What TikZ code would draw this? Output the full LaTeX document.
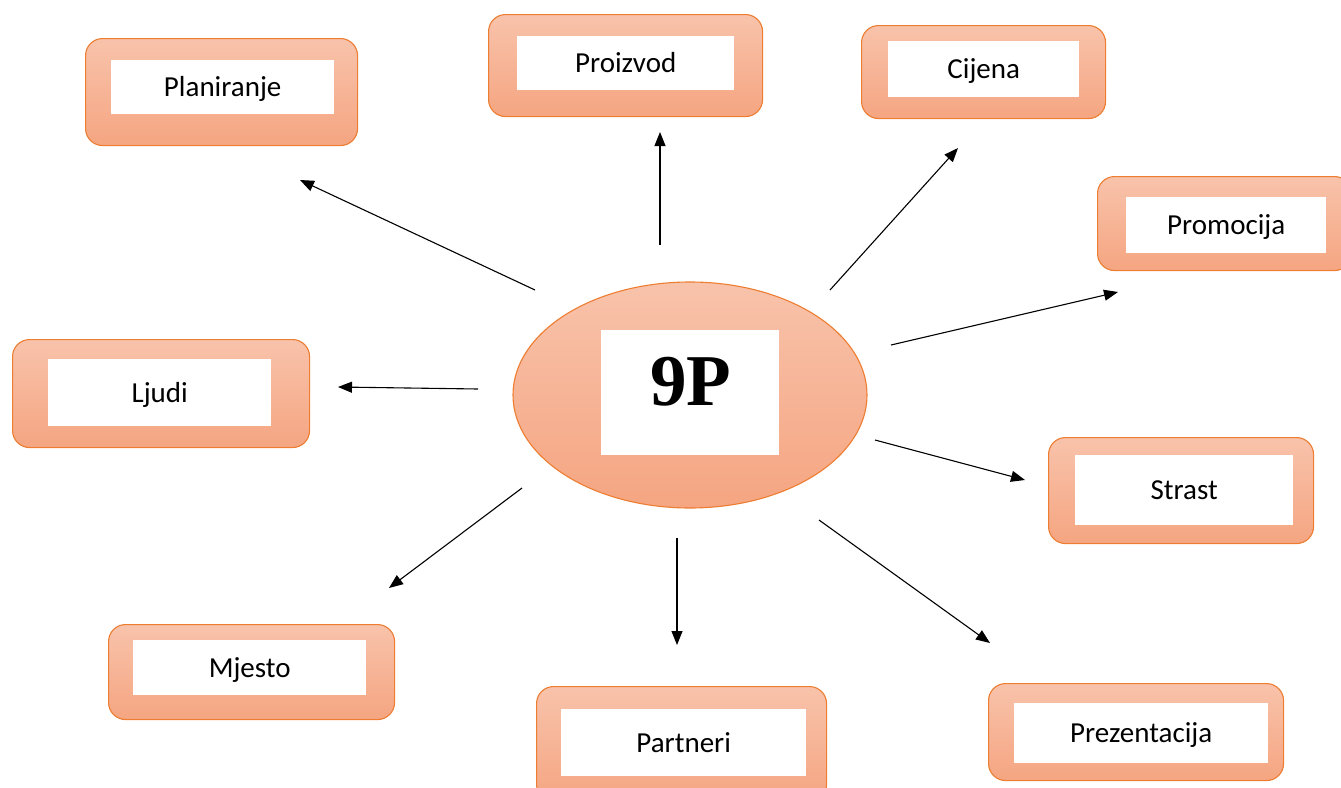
\documentclass[tikz,border=0pt]{standalone}
\usepackage{fontspec}
\setmainfont{Carlito}
\newfontfamily\timesbf{Liberation Serif}
\usetikzlibrary{arrows.meta,shapes.geometric}
\definecolor{boxedge}{HTML}{ED7D31}
\definecolor{boxtop}{HTML}{F8C3AB}
\definecolor{boxbot}{HTML}{F5A581}
\begin{document}
\begin{tikzpicture}[x=1pt,y=-1pt,
  outerbox/.style={draw=boxedge, line width=1.1pt, rounded corners=17pt,
    top color=boxtop, bottom color=boxbot, anchor=north west, inner sep=0pt},
  innerbox/.style={fill=white, anchor=north west, inner sep=0pt,
    font=\fontsize{29}{34}\selectfont, text height=19pt, text depth=0pt},
  arr/.style={-{Triangle[length=14pt,width=11pt]}, line width=1.1pt}]
\useasboundingbox (0,0) rectangle (1341,787);

% outer boxes
\node[outerbox, minimum width=272, minimum height=107] (planO) at (85,38) {};
\node[outerbox, minimum width=274, minimum height=102] (proO) at (488,14) {};
\node[outerbox, minimum width=244, minimum height=93] (cijO) at (861,25) {};
\node[outerbox, minimum width=254, minimum height=94] (promO) at (1097,176) {};
\node[outerbox, minimum width=297, minimum height=108] (ljuO) at (12,339) {};
\node[outerbox, minimum width=265, minimum height=106] (strO) at (1048,437) {};
\node[outerbox, minimum width=286, minimum height=95] (mjeO) at (108,624) {};
\node[outerbox, minimum width=290, minimum height=115] (parO) at (536,686) {};
\node[outerbox, minimum width=295, minimum height=97] (preO) at (988,683) {};

% inner boxes with text
\node[innerbox, minimum width=223, minimum height=54] (plan) at (111,60) {Planiranje};
\node[innerbox, minimum width=217, minimum height=54] (pro) at (517,36) {Proizvod};
\node[innerbox, minimum width=191, minimum height=56] (cij) at (888,41) {Cijena};
\node[innerbox, minimum width=200, minimum height=56] (prom) at (1126,197) {Promocija};
\node[innerbox, minimum width=223, minimum height=67] (lju) at (48,359) {Ljudi};
\node[innerbox, minimum width=218, minimum height=70] (str) at (1075,455) {Strast};
\node[innerbox, minimum width=233, minimum height=55] (mje) at (133,640) {Mjesto};
\node[innerbox, minimum width=245, minimum height=67] (par) at (561,709) {Partneri};
\node[innerbox, minimum width=254, minimum height=60] (pre) at (1014,703) {Prezentacija};

% centre
\node[ellipse, draw=boxedge, line width=1.1pt, top color=boxtop, bottom color=boxbot,
  minimum width=354, minimum height=226, inner sep=0pt] (core) at (690,395) {};
\node[fill=white, minimum width=178, minimum height=125, inner sep=0pt] (coreIn) at (690,392.5) {};
\node[font=\timesbf\bfseries\fontsize{73}{73}\selectfont, inner sep=0pt] (nineP) at (691,382) {9P};

% arrow end points
\coordinate (a1) at (535,290); \coordinate (b1) at (300,180);
\coordinate (a2) at (660,245); \coordinate (b2) at (660,132);
\coordinate (a3) at (830,290); \coordinate (b3) at (958,148);
\coordinate (a4) at (891,345); \coordinate (b4) at (1118,292);
\coordinate (a5) at (478,389); \coordinate (b5) at (338,387);
\coordinate (a6) at (875,440); \coordinate (b6) at (1025,480);
\coordinate (a7) at (522,488); \coordinate (b7) at (389,588);
\coordinate (a8) at (677,538); \coordinate (b8) at (677,645);
\coordinate (a9) at (819,520); \coordinate (b9) at (990,643);

\foreach \i in {1,...,9} \draw[arr] (a\i) -- (b\i);
\end{tikzpicture}
\end{document}
